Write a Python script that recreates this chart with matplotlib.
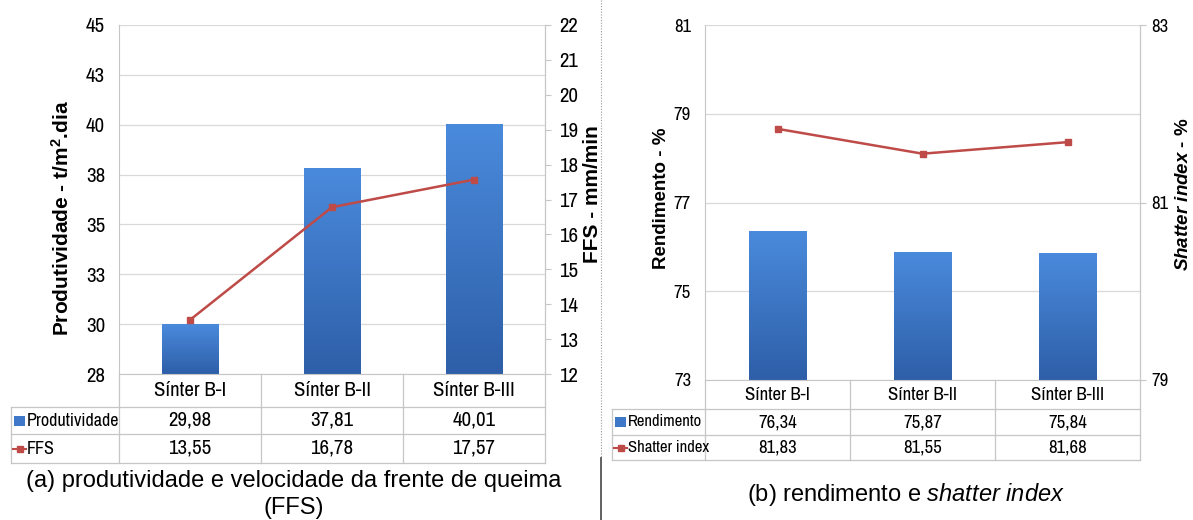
import numpy as np
import matplotlib.pyplot as plt
import matplotlib.transforms as mtransforms
from matplotlib.lines import Line2D
from matplotlib.patches import Rectangle
from matplotlib.ticker import FuncFormatter
from matplotlib.colors import LinearSegmentedColormap

NARROW = ["Archivo Narrow", "Roboto Condensed", "PT Sans Narrow", "Liberation Sans", "DejaVu Sans"]
SANS = ["Liberation Sans", "DejaVu Sans"]

plt.rcParams.update({
    "font.family": NARROW,
    "mathtext.fontset": "custom",
    "mathtext.rm": "Liberation Sans",
    "mathtext.it": "Liberation Sans:italic",
    "mathtext.bf": "Liberation Sans:bold",
    "mathtext.bfit": "Liberation Sans:italic:bold",
})

W, H = 1193, 520

categories = ["Sínter B-I", "Sínter B-II", "Sínter B-III"]
produtividade = [29.98, 37.81, 40.01]
ffs = [13.55, 16.78, 17.57]
rendimento = [76.34, 75.87, 75.84]
shatter_index = [81.83, 81.55, 81.68]

RED = "#be4b48"
GRID = "#d9d9d9"
EDGE = "#c6c6c6"
BLUE = "#3f78c8"
bar_cmap = LinearSegmentedColormap.from_list("bar", ["#2e5fa8", "#4a8adc"])

fig = plt.figure(figsize=(W / 100, H / 100), dpi=100)


def fx(x):
    return x / W


def fy(y):
    return 1 - y / H


def comma(v):
    return f"{v:.2f}".replace(".", ",")


def make_axes(x0, y0, x1, y1):
    return fig.add_axes([fx(x0), fy(y1), fx(x1) - fx(x0), fy(y0) - fy(y1)])


def gradient_bars(ax, values, ymin):
    x = np.arange(len(values))
    bars = ax.bar(x, np.array(values) - ymin, bottom=ymin, width=0.4, color="none")
    grad = np.linspace(0, 1, 100).reshape(-1, 1)
    for b in bars:
        ax.imshow(grad, extent=[b.get_x(), b.get_x() + b.get_width(),
                                b.get_y(), b.get_y() + b.get_height()],
                  origin="lower", cmap=bar_cmap, aspect="auto", zorder=2)
    return x


def style(ax, ax2, fs, rpad):
    ax.set_xlim(-0.5, len(categories) - 0.5)
    ax.set_xticks([])
    ax.yaxis.grid(True, color=GRID, lw=0.9)
    ax.set_axisbelow(True)
    ax.tick_params(axis="y", length=0, pad=10, labelsize=fs)
    ax2.tick_params(axis="y", length=4, color=EDGE, pad=rpad, labelsize=fs)
    ax.spines["top"].set_visible(False)
    for s in ["left", "bottom", "right"]:
        ax.spines[s].set_color(EDGE)
    for s in ["left", "bottom", "top"]:
        ax2.spines[s].set_visible(False)
    ax2.spines["right"].set_color(EDGE)


def draw_table(ax, rows, lines_y, left, fs, label_fs):
    bt = mtransforms.blended_transform_factory(ax.transData, fig.transFigure)
    right = ax.get_position().x1
    for y in lines_y[1:]:
        fig.add_artist(Line2D([fx(left), right], [fy(y)] * 2, color=EDGE, lw=0.9))
    fig.add_artist(Line2D([fx(left)] * 2, [fy(lines_y[1]), fy(lines_y[-1])], color=EDGE, lw=0.9))
    for xb in np.arange(-0.5, len(categories)):
        fig.add_artist(Line2D([xb, xb], [fy(lines_y[0]), fy(lines_y[-1])],
                              transform=bt, color=EDGE, lw=0.9))
    ymid = (lines_y[0] + lines_y[1]) / 2
    for i, c in enumerate(categories):
        fig.text(i, fy(ymid), c, transform=bt, ha="center", va="center", fontsize=fs)
    for r, (label, vals, icon) in enumerate(rows):
        ymid = (lines_y[r + 1] + lines_y[r + 2]) / 2
        if icon == "bar":
            fig.add_artist(Rectangle((fx(left + 3), fy(ymid + 5)), fx(11), 10 / H,
                                     facecolor=BLUE, edgecolor="none"))
        else:
            fig.add_artist(Line2D([fx(left + 2), fx(left + 8.5), fx(left + 15)], [fy(ymid)] * 3,
                                  color=RED, lw=1.5, marker="s", markersize=4, markevery=[1]))
        fig.text(fx(left + 16), fy(ymid), label, ha="left", va="center", fontsize=label_fs)
        for i, v in enumerate(vals):
            fig.text(i, fy(ymid), comma(v), transform=bt, ha="center", va="center", fontsize=fs)


def round_half_up(v, pos):
    return f"{int(np.floor(v + 0.5))}"


# (a) produtividade e FFS
ax_a = make_axes(119, 25, 545, 374)
x = gradient_bars(ax_a, produtividade, 27.5)
ax_a.set_ylim(27.5, 45)
ax_a.set_yticks(np.arange(27.5, 45.1, 2.5))
ax_a.yaxis.set_major_formatter(FuncFormatter(round_half_up))
ax_a2 = ax_a.twinx()
ax_a2.plot(x, ffs, color=RED, lw=1.8, marker="s", markersize=4)
ax_a2.set_ylim(12, 22)
ax_a2.set_yticks(np.arange(12, 23, 1))
style(ax_a, ax_a2, 15, 6)
draw_table(ax_a, [("Produtividade", produtividade, "bar"), ("FFS", ffs, "line")],
           [374, 407, 434, 463], 11, 15, 13)

fig.text(fx(62), fy(218), "Produtividade - t/m$^\\mathbf{2}$.dia", rotation=90,
         ha="center", va="center", fontsize=15, fontweight="bold", family=SANS)
fig.text(fx(592), fy(194), "FFS - mm/min", rotation=90, ha="center", va="center",
         fontsize=15, fontweight="bold", family=SANS)
fig.text(fx(294), fy(481), "(a) produtividade e velocidade da frente de queima",
         ha="center", va="center", fontsize=17, family=SANS)
fig.text(fx(294), fy(508), "(FFS)", ha="center", va="center", fontsize=17, family=SANS)

# (b) rendimento e shatter index
ax_b = make_axes(705, 25, 1140, 380)
x = gradient_bars(ax_b, rendimento, 73)
ax_b.set_ylim(73, 81)
ax_b.set_yticks(np.arange(73, 81.1, 2))
ax_b2 = ax_b.twinx()
ax_b2.plot(x, shatter_index, color=RED, lw=1.8, marker="s", markersize=4)
ax_b2.set_ylim(79, 83)
ax_b2.set_yticks(np.arange(79, 83.1, 2))
style(ax_b, ax_b2, 13.5, 4)
draw_table(ax_b, [("Rendimento", rendimento, "bar"), ("Shatter index", shatter_index, "line")],
           [380, 409, 435, 460], 612, 13.5, 12)

fig.text(fx(661), fy(198), "Rendimento - %", rotation=90, ha="center", va="center",
         fontsize=13.5, fontweight="bold", family=SANS)
fig.text(fx(1183), fy(194), r"$\mathbfit{Shatter\ index}$ - %", rotation=90,
         ha="center", va="center", fontsize=13.5, fontweight="bold", family=SANS)
fig.text(fx(906), fy(495), r"(b) rendimento e $\mathit{shatter\ index}$",
         ha="center", va="center", fontsize=17, family=SANS)

# separator between the two panels
fig.add_artist(Line2D([fx(601)] * 2, [fy(0), fy(458)], color="#9a9a9a", lw=0.8, ls=(0, (1, 1.5))))
fig.add_artist(Line2D([fx(601)] * 2, [fy(458), fy(520)], color="#555555", lw=1.3))

fig.savefig("out.png", dpi=100)
